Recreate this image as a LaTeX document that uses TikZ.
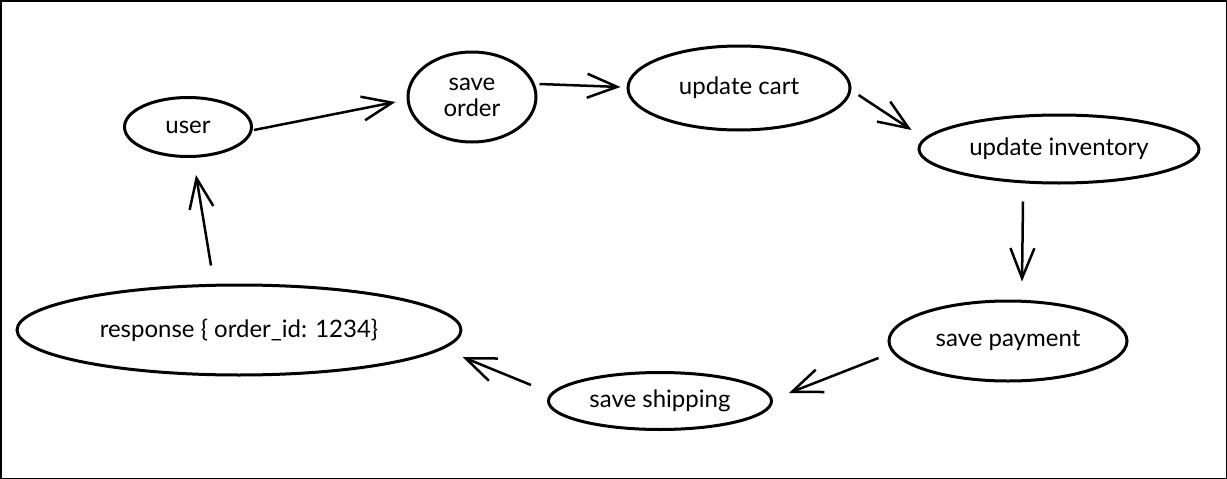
\documentclass[tikz,border=0pt]{standalone}
\usepackage{fontspec}
\setmainfont{Lato}
\usetikzlibrary{arrows.meta,shapes.geometric}

\begin{document}
\begin{tikzpicture}[x=1pt,y=-1pt,
    state/.style={ellipse,draw,line width=3pt,inner sep=0pt,
      font=\fontsize{24}{26}\selectfont,align=center},
    flow/.style={line width=2.5pt,
      -{Straight Barb[length=30pt,width=24pt,line width=2.5pt]}}]
  \useasboundingbox (0,0) rectangle (1227,479);
  \draw[line width=1.5pt] (0.75,0.75) rectangle (1226.25,478.25);
  % states
  \node[state,minimum width=127pt,minimum height=59pt] (user) at (188,127) {user};
  \node[state,minimum width=128pt,minimum height=90pt] (order) at (472,97) {save\\order};
  \node[state,minimum width=222pt,minimum height=84pt] (cart) at (739,88) {update cart};
  \node[state,minimum width=280pt,minimum height=68pt] (inv) at (1059,149) {update inventory};
  \node[state,minimum width=238pt,minimum height=80pt] (pay) at (1008,341) {save payment};
  \node[state,minimum width=223pt,minimum height=57pt] (ship) at (660,401) {save shipping};
  \node[state,minimum width=444pt,minimum height=90pt] (resp) at (239,330) {response \{ order\_id: 1234\}};
  % flow
  \draw[flow] ([shift={(1,3)}]user.east) -- ([shift={(-11,5)}]order.west);
  \draw[flow] ([shift={(2,-13)}]order.east) -- ([shift={(-6,-1)}]cart.west);
  \draw[flow] ([shift={(7,7)}]cart.east) -- ([shift={(-6,-19)}]inv.west);
  \draw[flow] ([shift={(-36,17)}]inv.south) -- ([shift={(14,-18)}]pay.north);
  \draw[flow] ([shift={(-9,17)}]pay.west) -- ([shift={(16,-8)}]ship.east);
  \draw[flow] ([shift={(-16,-16)}]ship.west) -- ([shift={(0,27)}]resp.east);
  \draw[flow] ([shift={(-28,-18)}]resp.north) -- ([shift={(8,17)}]user.south);
\end{tikzpicture}
\end{document}
